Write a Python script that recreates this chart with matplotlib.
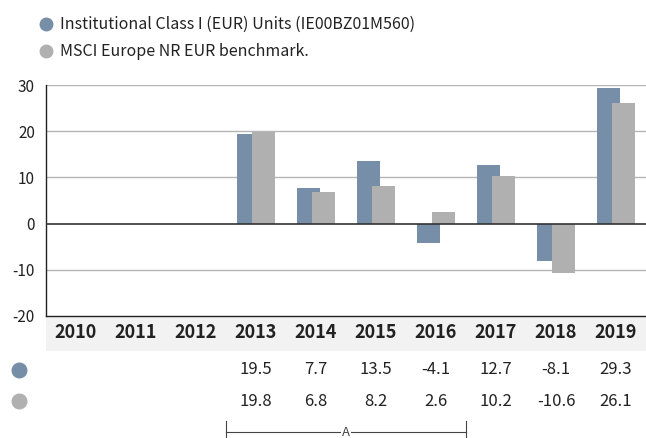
import matplotlib.pyplot as plt
import matplotlib.transforms as mtransforms
from matplotlib.patches import Rectangle
from matplotlib.lines import Line2D
import numpy as np

plt.rcParams['font.family'] = ['Noto Sans CJK JP', 'DejaVu Sans']
plt.rcParams['axes.unicode_minus'] = False

# data
years = ['2010', '2011', '2012', '2013', '2014', '2015', '2016', '2017', '2018', '2019']
fund = [None, None, None, 19.5, 7.7, 13.5, -4.1, 12.7, -8.1, 29.3]
bench = [None, None, None, 19.8, 6.8, 8.2, 2.6, 10.2, -10.6, 26.1]
fund_label = 'Institutional Class I (EUR) Units (IE00BZ01M560)'
bench_label = 'MSCI Europe NR EUR benchmark.'

c_fund = '#778ea8'
c_bench = '#b0b0b0'
W, H = 646, 438

fig = plt.figure(figsize=(W / 100, H / 100), dpi=100)
ax = fig.add_axes([46 / W, (H - 316) / H, 600 / W, 231 / H])

x = np.arange(len(years))
fv = np.array([np.nan if v is None else v for v in fund])
bv = np.array([np.nan if v is None else v for v in bench])
ax.bar(x - 0.125, fv, width=0.38, color=c_fund, zorder=3)
ax.bar(x + 0.125, bv, width=0.38, color=c_bench, zorder=4)

ax.set_xlim(-0.5, len(years) - 0.5)
ax.set_ylim(-20, 30)
ax.set_yticks([-20, -10, 0, 10, 20, 30])
ax.tick_params(axis='y', length=0, labelsize=11, colors='#222222', pad=8)
ax.set_xticks([])
for v in [-10, 10, 20, 30]:
    ax.axhline(v, color='#b5b5b5', lw=1, zorder=1)
ax.axhline(0, color='#333333', lw=1.2, zorder=5)
for s in ['top', 'right']:
    ax.spines[s].set_visible(False)
ax.spines['left'].set_color('#222222')
ax.spines['bottom'].set_color('#222222')
ax.spines['left'].set_linewidth(1)
ax.spines['bottom'].set_linewidth(1)
ax.spines['bottom'].set_zorder(6)

# year band
trans = mtransforms.blended_transform_factory(ax.transData, fig.transFigure)
ax.add_patch(Rectangle((-0.5, (H - 351) / H), len(years), 35 / H,
                       transform=trans, facecolor='#f2f2f2', edgecolor='none',
                       clip_on=False, zorder=0))
for i, yr in enumerate(years):
    ax.text(i, (H - 333) / H, yr, transform=trans, ha='center', va='center',
            fontsize=13, fontweight='bold', color='#222222', zorder=7)

# value rows
for row, (vals, col) in enumerate([(fund, c_fund), (bench, c_bench)]):
    yy = (H - (370 + 31 * row)) / H
    fig.add_artist(Line2D([19 / W], [yy], marker='o', markersize=10.5, color=col,
                          transform=fig.transFigure))
    for i, v in enumerate(vals):
        if v is not None:
            ax.text(i, yy, f'{v:.1f}', transform=trans, ha='center', va='center',
                    fontsize=12, color='#222222')

# bracket
yb = (H - 432) / H
ax.plot([2.5, 6.5], [yb, yb], transform=trans, color='#444444', lw=0.8, clip_on=False)
for xe in [2.5, 6.5]:
    ax.plot([xe, xe], [yb - 8 / H, yb + 11 / H], transform=trans, color='#444444',
            lw=0.8, clip_on=False)
ax.text(4.5, yb, 'A', transform=trans, ha='center', va='center', fontsize=9.5,
        color='#444444', bbox=dict(facecolor='white', edgecolor='none', pad=1))

# legend
for row, (lab, col) in enumerate([(fund_label, c_fund), (bench_label, c_bench)]):
    yy = (H - (24 + 27 * row)) / H
    fig.add_artist(Line2D([46 / W], [yy], marker='o', markersize=9, color=col,
                          transform=fig.transFigure))
    fig.text(60 / W, yy, lab, ha='left', va='center', fontsize=11.5, color='#222222')

fig.savefig('out.png', dpi=100)
